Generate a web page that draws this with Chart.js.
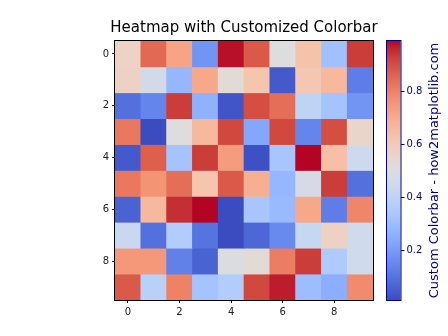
<!DOCTYPE html>
<html>
<head>
<meta charset="utf-8">
<script src="https://cdn.jsdelivr.net/npm/chart.js@4/dist/chart.umd.min.js"></script>
<style>
  html, body { margin: 0; padding: 0; background: #fff; }
</style>
</head>
<body>
<canvas id="heat" width="448" height="336"></canvas>
<script>
// DATA (row 0 is drawn at the top)
const colLabels = ['0', '1', '2', '3', '4', '5', '6', '7', '8', '9'];
const rowLabels = ['0', '1', '2', '3', '4', '5', '6', '7', '8', '9'];
const row0 = [0.56, 0.85, 0.72, 0.18, 0.98, 0.88, 0.50, 0.63, 0.31, 0.93];
const row1 = [0.57, 0.46, 0.28, 0.71, 0.52, 0.62, 0.04, 0.61, 0.66, 0.12];
const row2 = [0.09, 0.14, 0.93, 0.26, 0.03, 0.90, 0.84, 0.40, 0.32, 0.18];
const row3 = [0.82, 0.01, 0.50, 0.66, 0.91, 0.23, 0.91, 0.14, 0.90, 0.55];
const row4 = [0.04, 0.87, 0.32, 0.93, 0.74, 0.02, 0.33, 0.99, 0.64, 0.44];
const row5 = [0.82, 0.76, 0.84, 0.62, 0.88, 0.69, 0.28, 0.47, 0.93, 0.09];
const row6 = [0.06, 0.66, 0.95, 0.99, 0.01, 0.33, 0.29, 0.71, 0.12, 0.79];
const row7 = [0.43, 0.09, 0.36, 0.10, 0.01, 0.07, 0.15, 0.42, 0.57, 0.45];
const row8 = [0.75, 0.75, 0.13, 0.06, 0.49, 0.52, 0.81, 0.93, 0.35, 0.45];
const row9 = [0.88, 0.38, 0.80, 0.32, 0.36, 0.91, 0.97, 0.30, 0.25, 0.78];
const rows = [row0, row1, row2, row3, row4, row5, row6, row7, row8, row9];
const rowTicks = [0, 2, 4, 6, 8];
const colTicks = [0, 2, 4, 6, 8];
const cbTicks = [0.2, 0.4, 0.6, 0.8];

const vmin = Math.min(...rows.flat());
const vmax = Math.max(...rows.flat());

// coolwarm (Moreland) colour table, 33 stops
const coolwarm = [
  [59,76,192],[68,90,204],[77,104,215],[87,117,225],[98,130,234],[108,142,241],
  [119,154,247],[130,165,251],[141,176,254],[152,185,255],[163,194,255],[174,201,253],
  [184,208,249],[194,213,244],[204,217,238],[213,219,230],[221,221,221],[229,216,209],
  [236,211,197],[241,204,185],[245,196,173],[247,187,160],[247,177,148],[247,166,135],
  [244,154,123],[241,141,111],[236,127,99],[229,112,88],[222,96,77],[213,80,66],
  [203,62,56],[192,40,47],[180,4,38]
];

function cmap(t) {
  t = Math.max(0, Math.min(1, t));
  const p = t * (coolwarm.length - 1);
  const i = Math.min(Math.floor(p), coolwarm.length - 2);
  const f = p - i;
  const a = coolwarm[i], b = coolwarm[i + 1];
  const c = a.map((v, k) => Math.round(v + (b[k] - v) * f));
  return 'rgb(' + c.join(',') + ')';
}

function colorOf(v) {
  return cmap((v - vmin) / (vmax - vmin));
}

// one stacked dataset per row, each cell is a bar of height 1
const datasets = rows.map((r, i) => ({
  label: 'row ' + rowLabels[i],
  data: r.map(() => 1),
  backgroundColor: r.map(colorOf),
  borderWidth: 0,
  barPercentage: 1,
  categoryPercentage: 1
}));

const fontFam = "'DejaVu Sans', sans-serif";
const navy = '#000080';

// colorbar + frame
const colorbarPlugin = {
  id: 'colorbar',
  afterDatasetsDraw(chart) {
    const ctx = chart.ctx;
    const a = chart.chartArea;
    ctx.save();
    ctx.strokeStyle = '#000';
    ctx.lineWidth = 1;
    ctx.strokeRect(a.left - 0.5, a.top - 0.5, a.right - a.left + 1, a.bottom - a.top + 1);
    ctx.restore();
  },
  afterDraw(chart) {
    const ctx = chart.ctx;
    const cb = chart.scales.cb;
    const a = chart.chartArea;
    const x0 = 387, w = 13.5;
    const yTop = cb.getPixelForValue(vmax);
    const yBot = cb.getPixelForValue(vmin);
    ctx.save();
    const g = ctx.createLinearGradient(0, yBot, 0, yTop);
    coolwarm.forEach((c, i) => g.addColorStop(i / (coolwarm.length - 1), 'rgb(' + c.join(',') + ')'));
    ctx.fillStyle = g;
    ctx.fillRect(x0, yTop, w, yBot - yTop);
    ctx.strokeStyle = navy;
    ctx.lineWidth = 1;
    ctx.strokeRect(x0 - 0.5, yTop - 0.5, w + 1, yBot - yTop + 1);

    ctx.fillStyle = navy;
    ctx.font = '10px ' + fontFam;
    ctx.textAlign = 'left';
    ctx.textBaseline = 'middle';
    cbTicks.forEach(v => {
      const y = Math.round(cb.getPixelForValue(v)) + 0.5;
      ctx.beginPath();
      ctx.moveTo(x0 + w + 0.5, y);
      ctx.lineTo(x0 + w + 4, y);
      ctx.stroke();
      ctx.fillText(v.toFixed(1), x0 + w + 6, y);
    });

    ctx.translate(435, (a.top + a.bottom) / 2);
    ctx.rotate(-Math.PI / 2);
    ctx.font = '13px ' + fontFam;
    ctx.textAlign = 'center';
    ctx.fillText('Custom Colorbar - how2matplotlib.com', 0, 0);
    ctx.restore();
  }
};

const ctx = document.getElementById('heat').getContext('2d');
const chart = new Chart(ctx, {
  type: 'bar',
  data: { labels: colLabels, datasets: datasets },
  options: {
    responsive: false,
    devicePixelRatio: 1,
    animation: false,
    layout: { padding: { left: 90, right: 50, top: 0, bottom: 16 } },
    plugins: {
      legend: { display: false },
      tooltip: { enabled: false },
      title: {
        display: true,
        text: 'Heatmap with Customized Colorbar',
        color: '#000',
        font: { family: fontFam, size: 15, weight: 'normal' },
        padding: { top: 19, bottom: 4 }
      }
    },
    scales: {
      x: {
        stacked: true,
        offset: true,
        afterBuildTicks: axis => {
          axis.ticks = colTicks.map(v => ({ value: v }));
        },
        afterFit: axis => { axis.height = 20; },
        grid: { display: true, drawOnChartArea: false, offset: false, tickLength: 3, color: '#000' },
        border: { display: false },
        ticks: { color: '#222', font: { family: fontFam, size: 10 }, padding: 3, maxRotation: 0, autoSkip: false }
      },
      y: {
        stacked: true,
        reverse: true,
        min: 0,
        max: rows.length,
        afterBuildTicks: axis => {
          axis.ticks = rowTicks.map(v => ({ value: v + 0.5 }));
        },
        afterFit: axis => { axis.width = 25; },
        grid: { display: true, drawOnChartArea: false, tickLength: 3, color: '#000' },
        border: { display: false },
        ticks: {
          color: '#222',
          font: { family: fontFam, size: 10 },
          padding: 3,
          callback: v => rowLabels[v - 0.5]
        }
      },
      cb: {
        position: 'right',
        min: vmin,
        max: vmax,
        afterFit: axis => { axis.width = 25; },
        grid: { display: false },
        border: { display: false },
        ticks: { display: false }
      }
    }
  },
  plugins: [colorbarPlugin]
});
</script>
</body>
</html>
